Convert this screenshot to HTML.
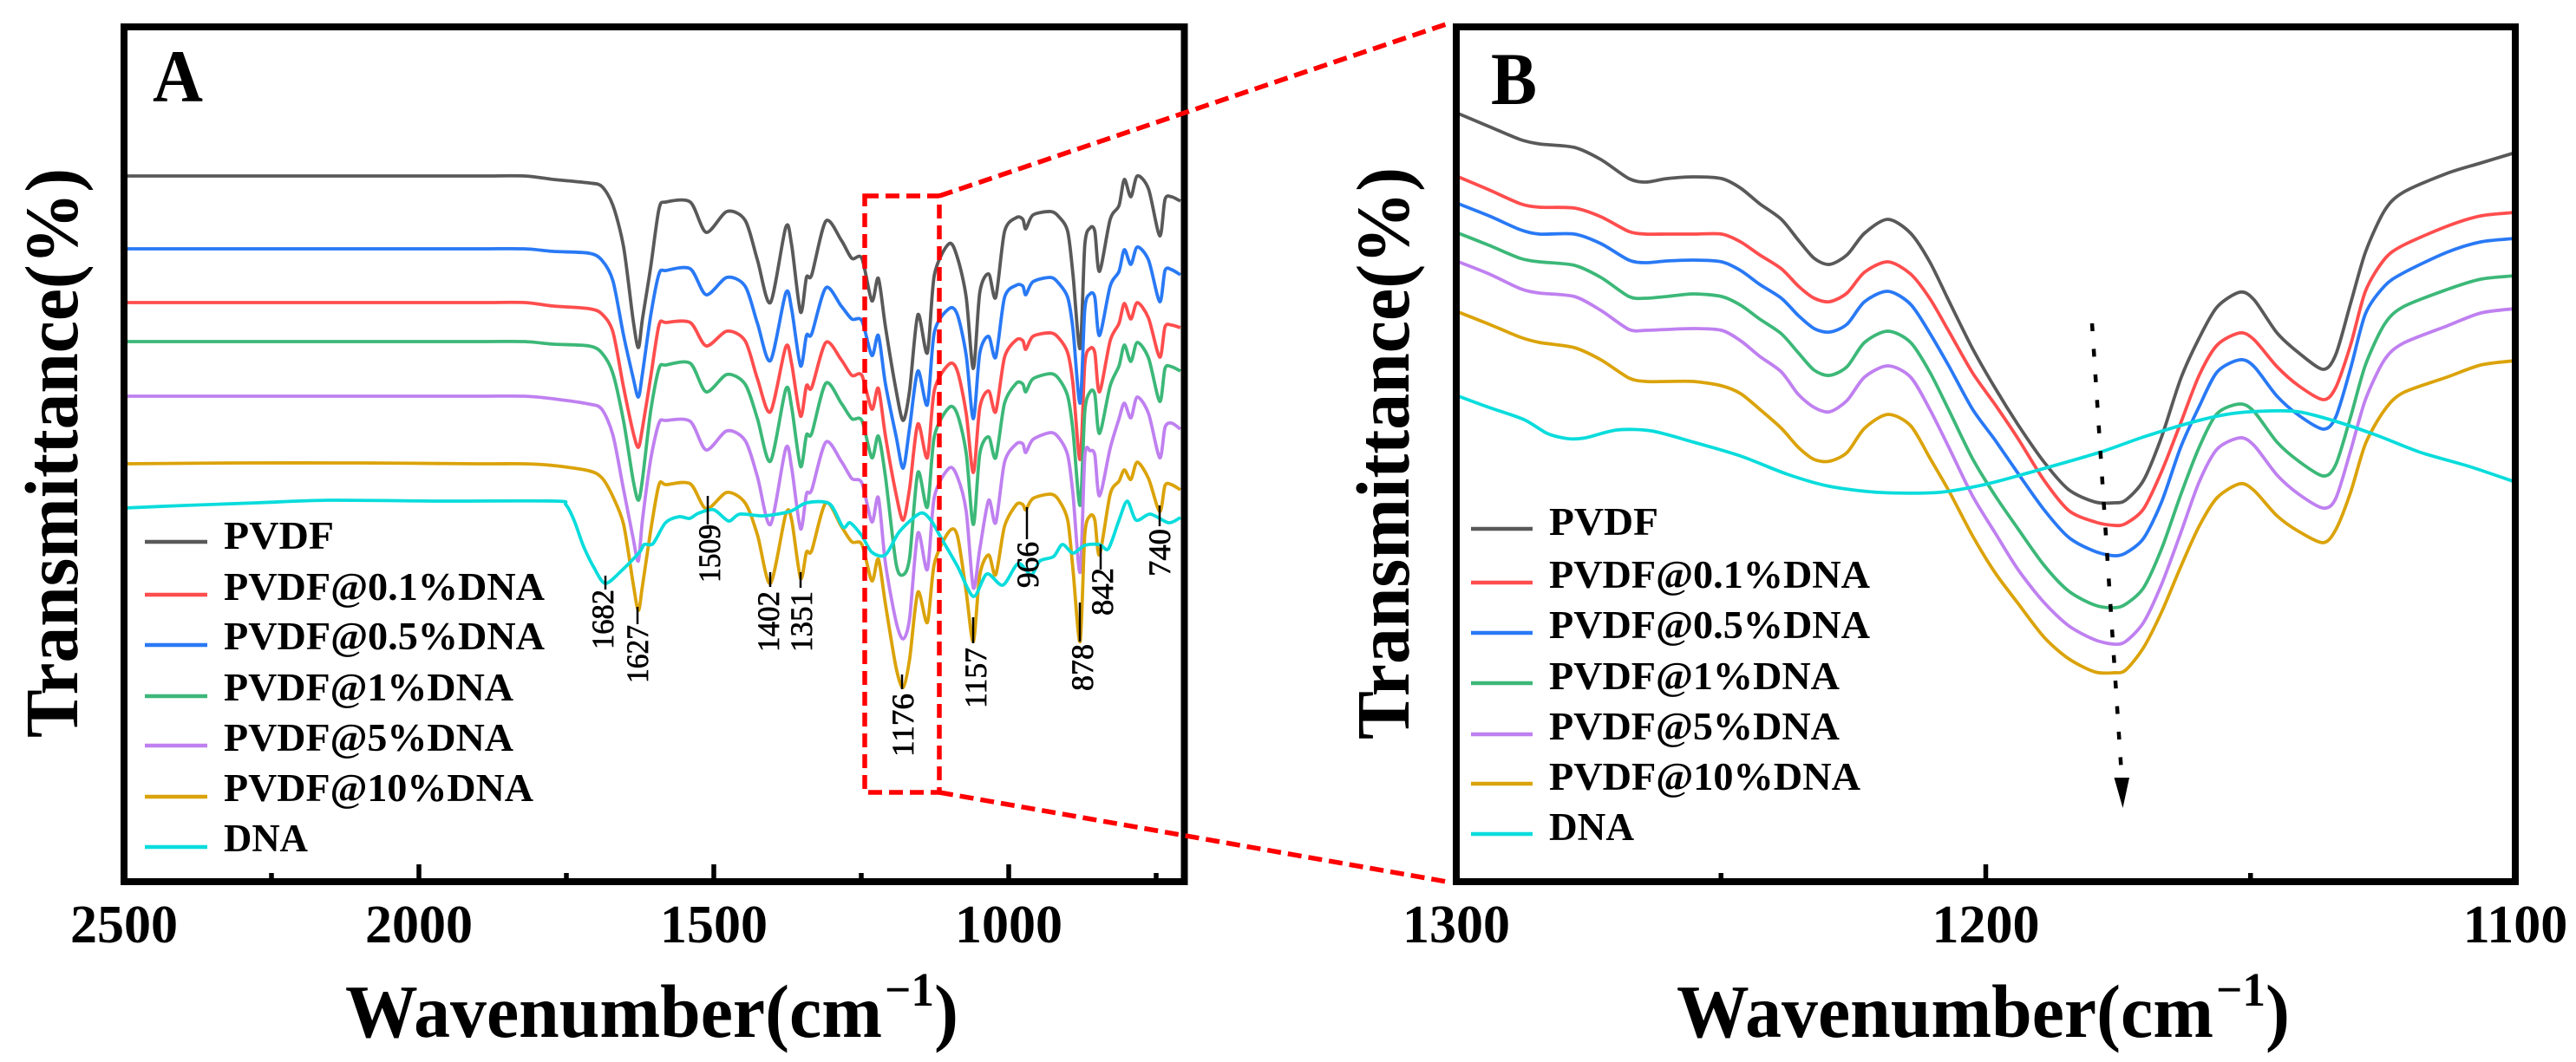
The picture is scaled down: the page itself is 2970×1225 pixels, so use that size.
<!DOCTYPE html>
<html lang="en">
<head>
<meta charset="utf-8">
<title>FTIR spectra of PVDF and PVDF@DNA films</title>
<style>
html,body{margin:0;padding:0;background:#fff;}
svg{display:block;font-family:"Liberation Serif",serif;}
.b{font-weight:700;fill:#000;}
.peak{font-size:36px;fill:#000;stroke:#000;stroke-width:.7;}
.lead{stroke:#000;stroke-width:2.5;}
.lg{font-size:45px;font-weight:700;fill:#000;}
</style>
</head>
<body>
<svg id="fig" xmlns="http://www.w3.org/2000/svg" width="2970" height="1225" viewBox="0 0 2970 1225">
<rect x="0" y="0" width="2970" height="1225" fill="#fff"/>
<g id="curvesA" fill="none" stroke-width="3.8" stroke-linejoin="round"></g>
<g id="curvesB" fill="none" stroke-width="3.8" stroke-linejoin="round"></g>

<g>
<line class="lead" x1="698" y1="664" x2="698" y2="680"/>
<text class="peak" transform="translate(707,749) rotate(-90)" textLength="69" lengthAdjust="spacingAndGlyphs">1682</text>
<line class="lead" x1="735" y1="700" x2="735" y2="720"/>
<text class="peak" transform="translate(747,788) rotate(-90)" textLength="67" lengthAdjust="spacingAndGlyphs">1627</text>
<line class="lead" x1="816" y1="572" x2="816" y2="605"/>
<text class="peak" transform="translate(830,672) rotate(-90)" textLength="67" lengthAdjust="spacingAndGlyphs">1509</text>
<line class="lead" x1="888" y1="660" x2="888" y2="677"/>
<text class="peak" transform="translate(898,752) rotate(-90)" textLength="70" lengthAdjust="spacingAndGlyphs">1402</text>
<line class="lead" x1="923" y1="660" x2="923" y2="678"/>
<text class="peak" transform="translate(936,752) rotate(-90)" textLength="70" lengthAdjust="spacingAndGlyphs">1351</text>
<line class="lead" x1="1040" y1="778" x2="1040" y2="795"/>
<text class="peak" transform="translate(1053,873) rotate(-90)" textLength="73" lengthAdjust="spacingAndGlyphs">1176</text>
<line class="lead" x1="1122" y1="712" x2="1122" y2="742"/>
<text class="peak" transform="translate(1137,817) rotate(-90)" textLength="70" lengthAdjust="spacingAndGlyphs">1157</text>
<line class="lead" x1="1184" y1="585" x2="1184" y2="622"/>
<text class="peak" transform="translate(1197,678) rotate(-90)" textLength="53" lengthAdjust="spacingAndGlyphs">966</text>
<line class="lead" x1="1245" y1="695" x2="1245" y2="740"/>
<text class="peak" transform="translate(1260,797) rotate(-90)" textLength="54" lengthAdjust="spacingAndGlyphs">878</text>
<line class="lead" x1="1269" y1="628" x2="1269" y2="657"/>
<text class="peak" transform="translate(1283,710) rotate(-90)" textLength="55" lengthAdjust="spacingAndGlyphs">842</text>
<line class="lead" x1="1337" y1="583" x2="1337" y2="607"/>
<text class="peak" transform="translate(1349,665) rotate(-90)" textLength="55" lengthAdjust="spacingAndGlyphs">740</text>
</g>

<rect x="143" y="31" width="1222.5" height="986" fill="none" stroke="#000" stroke-width="8"/>
<rect x="1679" y="31" width="1221" height="986" fill="none" stroke="#000" stroke-width="8"/>
<g id="axes"></g>

<text class="b" x="176" y="117" font-size="86" textLength="58" lengthAdjust="spacingAndGlyphs">A</text>
<text class="b" x="1719" y="120" font-size="86" textLength="53" lengthAdjust="spacingAndGlyphs">B</text>

<text class="b" transform="translate(89,851) rotate(-90)" font-size="87" textLength="657" lengthAdjust="spacingAndGlyphs">Transmittance(%)</text>
<text class="b" transform="translate(1624,853) rotate(-90)" font-size="87" textLength="660" lengthAdjust="spacingAndGlyphs">Transmittance(%)</text>

<g>
<text class="b" x="398" y="1196" font-size="87" textLength="619" lengthAdjust="spacingAndGlyphs">Wavenumber(cm</text>
<text class="b" x="1020" y="1160" font-size="55" textLength="57" lengthAdjust="spacingAndGlyphs">−1</text>
<text class="b" x="1077" y="1196" font-size="87" textLength="28" lengthAdjust="spacingAndGlyphs">)</text>
</g>
<g>
<text class="b" x="1933" y="1196" font-size="87" textLength="619" lengthAdjust="spacingAndGlyphs">Wavenumber(cm</text>
<text class="b" x="2555" y="1160" font-size="55" textLength="57" lengthAdjust="spacingAndGlyphs">−1</text>
<text class="b" x="2612" y="1196" font-size="87" textLength="28" lengthAdjust="spacingAndGlyphs">)</text>
</g>

<g stroke-width="4.5">
<line x1="167" y1="625" x2="239" y2="625" stroke="#595959"/>
<text class="lg" x="258" y="633" stroke="none" textLength="127" lengthAdjust="spacingAndGlyphs">PVDF</text>
<line x1="167" y1="686" x2="239" y2="686" stroke="#ff4d4d"/>
<text class="lg" x="258" y="692" stroke="none" textLength="370" lengthAdjust="spacingAndGlyphs">PVDF@0.1%DNA</text>
<line x1="167" y1="744" x2="239" y2="744" stroke="#2979f5"/>
<text class="lg" x="258" y="749" stroke="none" textLength="370" lengthAdjust="spacingAndGlyphs">PVDF@0.5%DNA</text>
<line x1="167" y1="803" x2="239" y2="803" stroke="#3cb878"/>
<text class="lg" x="258" y="808" stroke="none" textLength="334" lengthAdjust="spacingAndGlyphs">PVDF@1%DNA</text>
<line x1="167" y1="860" x2="239" y2="860" stroke="#bf80f0"/>
<text class="lg" x="258" y="866" stroke="none" textLength="334" lengthAdjust="spacingAndGlyphs">PVDF@5%DNA</text>
<line x1="167" y1="919" x2="239" y2="919" stroke="#dba30a"/>
<text class="lg" x="258" y="924" stroke="none" textLength="357" lengthAdjust="spacingAndGlyphs">PVDF@10%DNA</text>
<line x1="167" y1="977" x2="239" y2="977" stroke="#0adcdc"/>
<text class="lg" x="258" y="982" stroke="none" textLength="97" lengthAdjust="spacingAndGlyphs">DNA</text>
</g>

<g stroke-width="4.5">
<line x1="1696" y1="610" x2="1767" y2="610" stroke="#595959"/>
<text class="lg" x="1786" y="617" stroke="none" textLength="126" lengthAdjust="spacingAndGlyphs">PVDF</text>
<line x1="1696" y1="672" x2="1767" y2="672" stroke="#ff4d4d"/>
<text class="lg" x="1786" y="678" stroke="none" textLength="370" lengthAdjust="spacingAndGlyphs">PVDF@0.1%DNA</text>
<line x1="1696" y1="730" x2="1767" y2="730" stroke="#2979f5"/>
<text class="lg" x="1786" y="736" stroke="none" textLength="370" lengthAdjust="spacingAndGlyphs">PVDF@0.5%DNA</text>
<line x1="1696" y1="788" x2="1767" y2="788" stroke="#3cb878"/>
<text class="lg" x="1786" y="795" stroke="none" textLength="335" lengthAdjust="spacingAndGlyphs">PVDF@1%DNA</text>
<line x1="1696" y1="847" x2="1767" y2="847" stroke="#bf80f0"/>
<text class="lg" x="1786" y="853" stroke="none" textLength="335" lengthAdjust="spacingAndGlyphs">PVDF@5%DNA</text>
<line x1="1696" y1="904" x2="1767" y2="904" stroke="#dba30a"/>
<text class="lg" x="1786" y="911" stroke="none" textLength="359" lengthAdjust="spacingAndGlyphs">PVDF@10%DNA</text>
<line x1="1696" y1="962" x2="1767" y2="962" stroke="#0adcdc"/>
<text class="lg" x="1786" y="969" stroke="none" textLength="98" lengthAdjust="spacingAndGlyphs">DNA</text>
</g>

<g fill="none" stroke="#ff0000" stroke-width="5.5" stroke-dasharray="16 8">
<rect x="997" y="226" width="86" height="688"/>
<line x1="1083" y1="226" x2="1667" y2="28"/>
<line x1="1083" y1="914" x2="1668" y2="1017"/>
</g>

<g>
<line x1="2412" y1="373" x2="2446" y2="893" stroke="#000" stroke-width="4.5" stroke-dasharray="9 20.5"/>
<polygon points="2437.5,897 2455,897 2447.5,932" fill="#000"/>
</g>

<script>
var waveA = [2500,2300,2100,1900,1821,1772,1712,1690,1671,1653,1637,1628,1621,1607,1593,1581,1540,1513,1478,1447,1426,1404,1378,1368,1353,1343,1334,1310,1284,1266,1249,1232,1221,1209,1191,1179,1168,1154,1138,1126,1101,1087,1072,1060,1049,1034,1022,1007,987,976,971,959,929,915,900,891,879,871,862,854,846,828,813,804,793,782,763,744,735,724,709];
var pvdfA = [814,814,814,814,814,810,806,802,780,732,649,616,649,709,776,784,784,749,773,763,717,668,755,734,657,697,700,762,740,719,719,670,696,640,567,532,567,654,610,700,736,720,674,592,680,701,674,750,766,764,753,769,773,767,750,700,615,734,754,750,704,764,780,810,790,814,799,745,787,790,785];
var dna01A = [668,668,668,668,668,664,661,655,634,570,519,501,523,582,642,645,645,618,635,624,580,542,617,597,537,572,570,622,602,584,584,545,569,514,447,417,454,528,489,567,597,589,540,472,547,566,542,605,625,624,614,629,633,627,610,574,487,597,615,610,565,624,644,667,649,668,650,605,640,642,639];
var dna05A = [730,730,730,730,730,727,725,717,693,630,582,559,586,653,701,705,707,677,697,687,644,601,679,660,595,630,632,685,664,649,647,607,630,574,514,477,524,589,550,634,661,654,607,534,610,629,605,674,688,687,677,692,697,690,674,637,552,660,678,674,630,687,704,729,712,732,717,669,705,706,700];
var dna1A = [623,623,623,623,623,620,618,610,586,531,464,440,464,543,592,596,598,565,585,574,534,485,568,547,479,515,517,575,552,534,532,489,514,467,367,354,374,472,432,514,547,539,494,412,494,513,489,552,575,574,565,580,586,580,560,520,434,542,565,562,517,572,595,619,600,622,604,554,592,594,589];
var dna5A = [560,560,560,560,560,557,551,545,515,452,397,370,417,487,529,532,531,498,520,509,467,412,500,477,407,447,452,507,485,465,460,415,443,367,300,280,304,402,360,444,477,467,427,339,384,440,414,484,505,505,495,510,518,512,492,447,357,490,497,492,445,500,534,552,535,559,540,489,524,529,522];
var dna10A = [482,483,483,482,482,480,474,466,444,412,345,313,341,405,458,458,459,430,449,437,400,344,424,417,350,380,382,437,410,392,389,347,372,320,247,224,257,334,299,367,404,399,334,277,354,377,354,410,435,435,429,442,447,440,417,360,277,400,422,417,377,447,462,475,464,484,465,427,457,458,452];
var waveDnaA = [2500,2396,2275,2154,1960,1769,1751,1737,1721,1703,1684,1656,1626,1618,1603,1582,1559,1541,1526,1500,1475,1456,1416,1371,1343,1304,1281,1269,1249,1232,1209,1185,1150,1132,1115,1087,1060,1037,1010,984,962,947,924,909,891,871,846,831,813,799,784,760,729,709];
var dnaA = [431,434,437,440,439,439,435,417,387,362,344,359,380,389,390,414,421,419,425,429,416,424,422,427,437,436,409,414,399,380,377,404,425,417,397,364,329,355,342,367,354,370,375,389,379,388,389,384,417,439,417,424,414,420];

var waveB = [1300,1293.8,1287.9,1284.3,1277.7,1272.7,1267.4,1264.2,1260.2,1255.2,1249.9,1246.3,1242.7,1238.6,1235.4,1232.4,1229.5,1226.2,1222.9,1218.5,1214.2,1210.5,1206.9,1202.5,1198.2,1193.9,1189,1184.3,1179.4,1175.8,1173.6,1170.2,1166.8,1163.2,1159.7,1156.3,1152,1149.3,1145,1140.9,1136.3,1133.9,1131.1,1128.3,1124.7,1121.2,1112.9,1106.5,1100];
var pvdfB = [887,871,856,851,847,833,811,807,811,813,811,800,782,764,740,719,712,723,748,764,748,714,669,615,569,527,484,452,438,437,440,463,513,580,627,663,680,671,633,610,591,608,667,726,774,795,817,829,841];
var dna01B = [814,798,782,778,777,767,750,747,747,747,747,738,723,707,687,673,669,679,703,715,701,672,634,587,550,511,463,428,415,411,413,430,473,529,584,619,633,625,594,572,556,570,619,681,718,734,756,768,772];
var dna05B = [783,768,752,747,747,736,717,714,716,717,715,705,689,673,653,638,634,643,669,681,666,632,594,545,509,471,429,397,381,376,379,396,438,501,548,588,602,594,560,538,522,536,592,655,687,702,726,738,742];
var dna1B = [749,734,719,715,711,697,675,673,675,678,675,665,649,632,610,590,584,594,622,635,622,587,543,488,445,407,365,335,319,316,320,339,384,446,501,540,551,542,507,485,468,481,536,596,643,663,683,695,699];
var dna5B = [716,701,684,679,675,659,637,636,637,638,636,624,606,588,562,547,542,555,582,595,582,544,500,445,402,360,322,295,279,274,277,299,343,402,461,499,512,503,469,447,431,442,497,556,602,621,641,656,661];
var dna10B = [658,643,628,622,616,602,581,577,577,577,572,563,545,523,501,487,485,495,523,539,526,488,450,399,356,321,282,257,242,241,244,270,311,363,410,443,459,451,422,404,391,406,449,505,544,564,582,596,601];
var waveDnaB = [1300,1293.8,1287.2,1282.8,1278.9,1275.6,1269.7,1263.2,1255.2,1246.3,1237.5,1229.5,1220,1209,1200.3,1191.7,1178.6,1170.2,1160.4,1153.5,1146.5,1140.9,1133.9,1126.2,1117.8,1108.7,1100];
var dnaB = [561,547,533,517,511,512,521,520,507,491,470,456,449,449,458,472,495,513,531,540,543,542,531,515,495,479,461];

var majorTicksA = [2500,2000,1500,1000];
var minorTicksA = [2250,1750,1250,750];
var majorTicksB = [1300,1200,1100];
var minorTicksB = [1250,1150];

var NS = 'http://www.w3.org/2000/svg';
function xA(w){ return 143 + (2500 - w) * 0.68; }
function xB(w){ return 1679 + (1300 - w) * 6.105; }
function yT(v){ return 1017 - v * (986 / 986); }

function pathFor(wave, vals, xf){
  var p = [];
  for (var i = 0; i < vals.length; i++) p.push([xf(wave[i]), yT(vals[i])]);
  var d = 'M' + p[0][0].toFixed(1) + ' ' + p[0][1].toFixed(1);
  for (var j = 0; j < p.length - 1; j++) {
    var a = p[Math.max(j - 1, 0)], b = p[j], c = p[j + 1], e = p[Math.min(j + 2, p.length - 1)];
    var k = 0.14;
    d += 'C' + (b[0] + (c[0] - a[0]) * k).toFixed(1) + ' ' + (b[1] + (c[1] - a[1]) * k).toFixed(1) + ' ' +
         (c[0] - (e[0] - b[0]) * k).toFixed(1) + ' ' + (c[1] - (e[1] - b[1]) * k).toFixed(1) + ' ' +
         c[0].toFixed(1) + ' ' + c[1].toFixed(1);
  }
  return d;
}
function addCurve(parentId, name, color, wave, vals, xf){
  var el = document.createElementNS(NS, 'path');
  el.setAttribute('d', pathFor(wave, vals, xf));
  el.setAttribute('stroke', color);
  
  
  document.getElementById(parentId).appendChild(el);
}
addCurve('curvesA', 'curve-a-pvdf', '#595959', waveA, pvdfA, xA);
addCurve('curvesA', 'curve-a-dna-0-1', '#ff4d4d', waveA, dna01A, xA);
addCurve('curvesA', 'curve-a-dna-0-5', '#2979f5', waveA, dna05A, xA);
addCurve('curvesA', 'curve-a-dna-1', '#3cb878', waveA, dna1A, xA);
addCurve('curvesA', 'curve-a-dna-5', '#bf80f0', waveA, dna5A, xA);
addCurve('curvesA', 'curve-a-dna-10', '#dba30a', waveA, dna10A, xA);
addCurve('curvesA', 'curve-a-dna', '#0adcdc', waveDnaA, dnaA, xA);
addCurve('curvesB', 'curve-b-pvdf', '#595959', waveB, pvdfB, xB);
addCurve('curvesB', 'curve-b-dna-0-1', '#ff4d4d', waveB, dna01B, xB);
addCurve('curvesB', 'curve-b-dna-0-5', '#2979f5', waveB, dna05B, xB);
addCurve('curvesB', 'curve-b-dna-1', '#3cb878', waveB, dna1B, xB);
addCurve('curvesB', 'curve-b-dna-5', '#bf80f0', waveB, dna5B, xB);
addCurve('curvesB', 'curve-b-dna-10', '#dba30a', waveB, dna10B, xB);
addCurve('curvesB', 'curve-b-dna', '#0adcdc', waveDnaB, dnaB, xB);

function addTick(x, len, name){
  var t = document.createElementNS(NS, 'line');
  t.setAttribute('x1', x);
  t.setAttribute('x2', x);
  t.setAttribute('y1', 1014);
  t.setAttribute('y2', 1014 - len);
  t.setAttribute('stroke', '#000');
  t.setAttribute('stroke-width', 5.5);
  
  
  document.getElementById('axes').appendChild(t);
}
function addTickLabel(x, value, name){
  var t = document.createElementNS(NS, 'text');
  t.setAttribute('x', x);
  t.setAttribute('y', 1087);
  t.setAttribute('text-anchor', 'middle');
  t.setAttribute('font-size', 62);
  t.setAttribute('font-weight', 700);
  t.setAttribute('fill', '#000');
  
  
  t.textContent = value;
  document.getElementById('axes').appendChild(t);
}
majorTicksA.forEach(function(w){
  if (w !== 2500) addTick(xA(w), 17, 'tick-a-major');
  addTickLabel(xA(w), w, 'tick-label-a');
});
minorTicksA.forEach(function(w){ addTick(xA(w), 7, 'tick-a-minor'); });
majorTicksB.forEach(function(w){
  if (w === 1200) addTick(xB(w), 17, 'tick-b-major');
  addTickLabel(xB(w), w, 'tick-label-b');
});
minorTicksB.forEach(function(w){ addTick(xB(w), 7, 'tick-b-minor'); });
</script>
</svg>
</body>
</html>
